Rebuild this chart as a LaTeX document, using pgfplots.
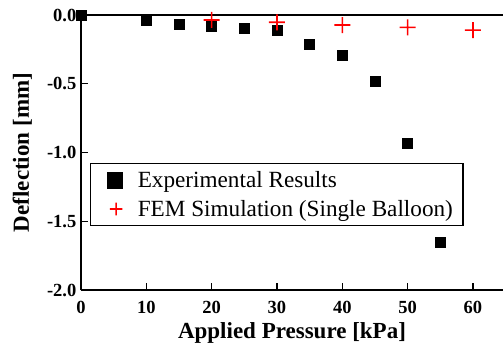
\documentclass[border=0pt]{standalone}
\usepackage{fontspec}
\setmainfont{Liberation Serif}
\usepackage{pgfplots}
\pgfplotsset{compat=1.18}
\pgfdeclareplotmark{fatplus}{%
  \pgfpathrectangle{\pgfqpoint{-\pgfplotmarksize}{-0.8pt}}{\pgfqpoint{2\pgfplotmarksize}{1.6pt}}%
  \pgfpathrectangle{\pgfqpoint{-0.8pt}{-\pgfplotmarksize}}{\pgfqpoint{1.6pt}{2\pgfplotmarksize}}%
  \pgfusepathqfill}
\begin{document}
\begin{tikzpicture}
\begin{axis}[
  at={(0,0)}, anchor=south west,
  scale only axis, width=422pt, height=275pt,
  xmin=0, xmax=64.6, ymin=-2, ymax=0,
  clip=false,
  axis x line*=box, axis y line*=left,
  xtick={0,10,20,30,40,50,60}, xticklabels={0,10,20,30,40,50,60},
  ytick={-2,-1.5,-1,-0.5,0}, yticklabels={-2.0,-1.5,-1.0,-0.5,0.0},
  xtick pos=bottom, ytick pos=left,
  tick align=inside, major tick length=7pt,
  axis line style={line width=1.2pt, black},
  tick style={line width=1.2pt, black},
  ticklabel style={font=\fontsize{18.5}{22}\selectfont\bfseries, inner sep=0pt},
  yticklabel style={xshift=-4.5pt},
  xticklabel style={yshift=-11pt},
  xlabel={Applied Pressure [kPa]},
  ylabel={Deflection [mm]},
  label style={font=\fontsize{23}{26}\selectfont\bfseries, inner sep=0pt},
  xlabel style={at={(rel axis cs:0.5,0)}, anchor=north, yshift=-32.5pt},
  ylabel style={at={([xshift=-52pt]rel axis cs:0,0.5)}, anchor=base, rotate=0},
  legend style={at={(rel axis cs:0.0213,0.4618)}, anchor=north west, draw=black, line width=1.2pt,
    font=\fontsize{23.2}{26}\selectfont, inner xsep=8pt, inner ysep=6pt, row sep=7pt,
    nodes={inner sep=2pt}},
  legend cell align=left,
]
\addplot[only marks, mark=square*, mark size=5pt, black, mark options={black, fill=black},
  legend image code/.code={\path (0pt,0pt) (36pt,0pt); \draw[black, fill=black] plot[mark=square*, mark size=7.5pt] coordinates {(16pt,0pt)};}] coordinates {
(0,0) (10,-0.041) (15,-0.065) (20,-0.085) (25,-0.097) (30,-0.114) (35,-0.209) (40,-0.289) (45,-0.478) (50,-0.929) (55,-1.65)
};
\addlegendentry{Experimental Results}
\addplot[only marks, mark=fatplus, color=red, mark size=8pt, mark options={solid, fill=red, draw=none},
  legend image code/.code={\path (0pt,0pt) (36pt,0pt); \fill[red] plot[mark=fatplus, mark size=6.3pt, mark options={fill=red, draw=none}] coordinates {(17pt,0pt)};}] coordinates {
(20,-0.036) (30,-0.053) (40,-0.073) (50,-0.09) (60,-0.11)
};
\addlegendentry{FEM Simulation (Single Balloon)}
\end{axis}
\pgfresetboundingbox
\path[use as bounding box] (-81pt,-59pt) rectangle (422pt,290pt);
\end{tikzpicture}
\end{document}
